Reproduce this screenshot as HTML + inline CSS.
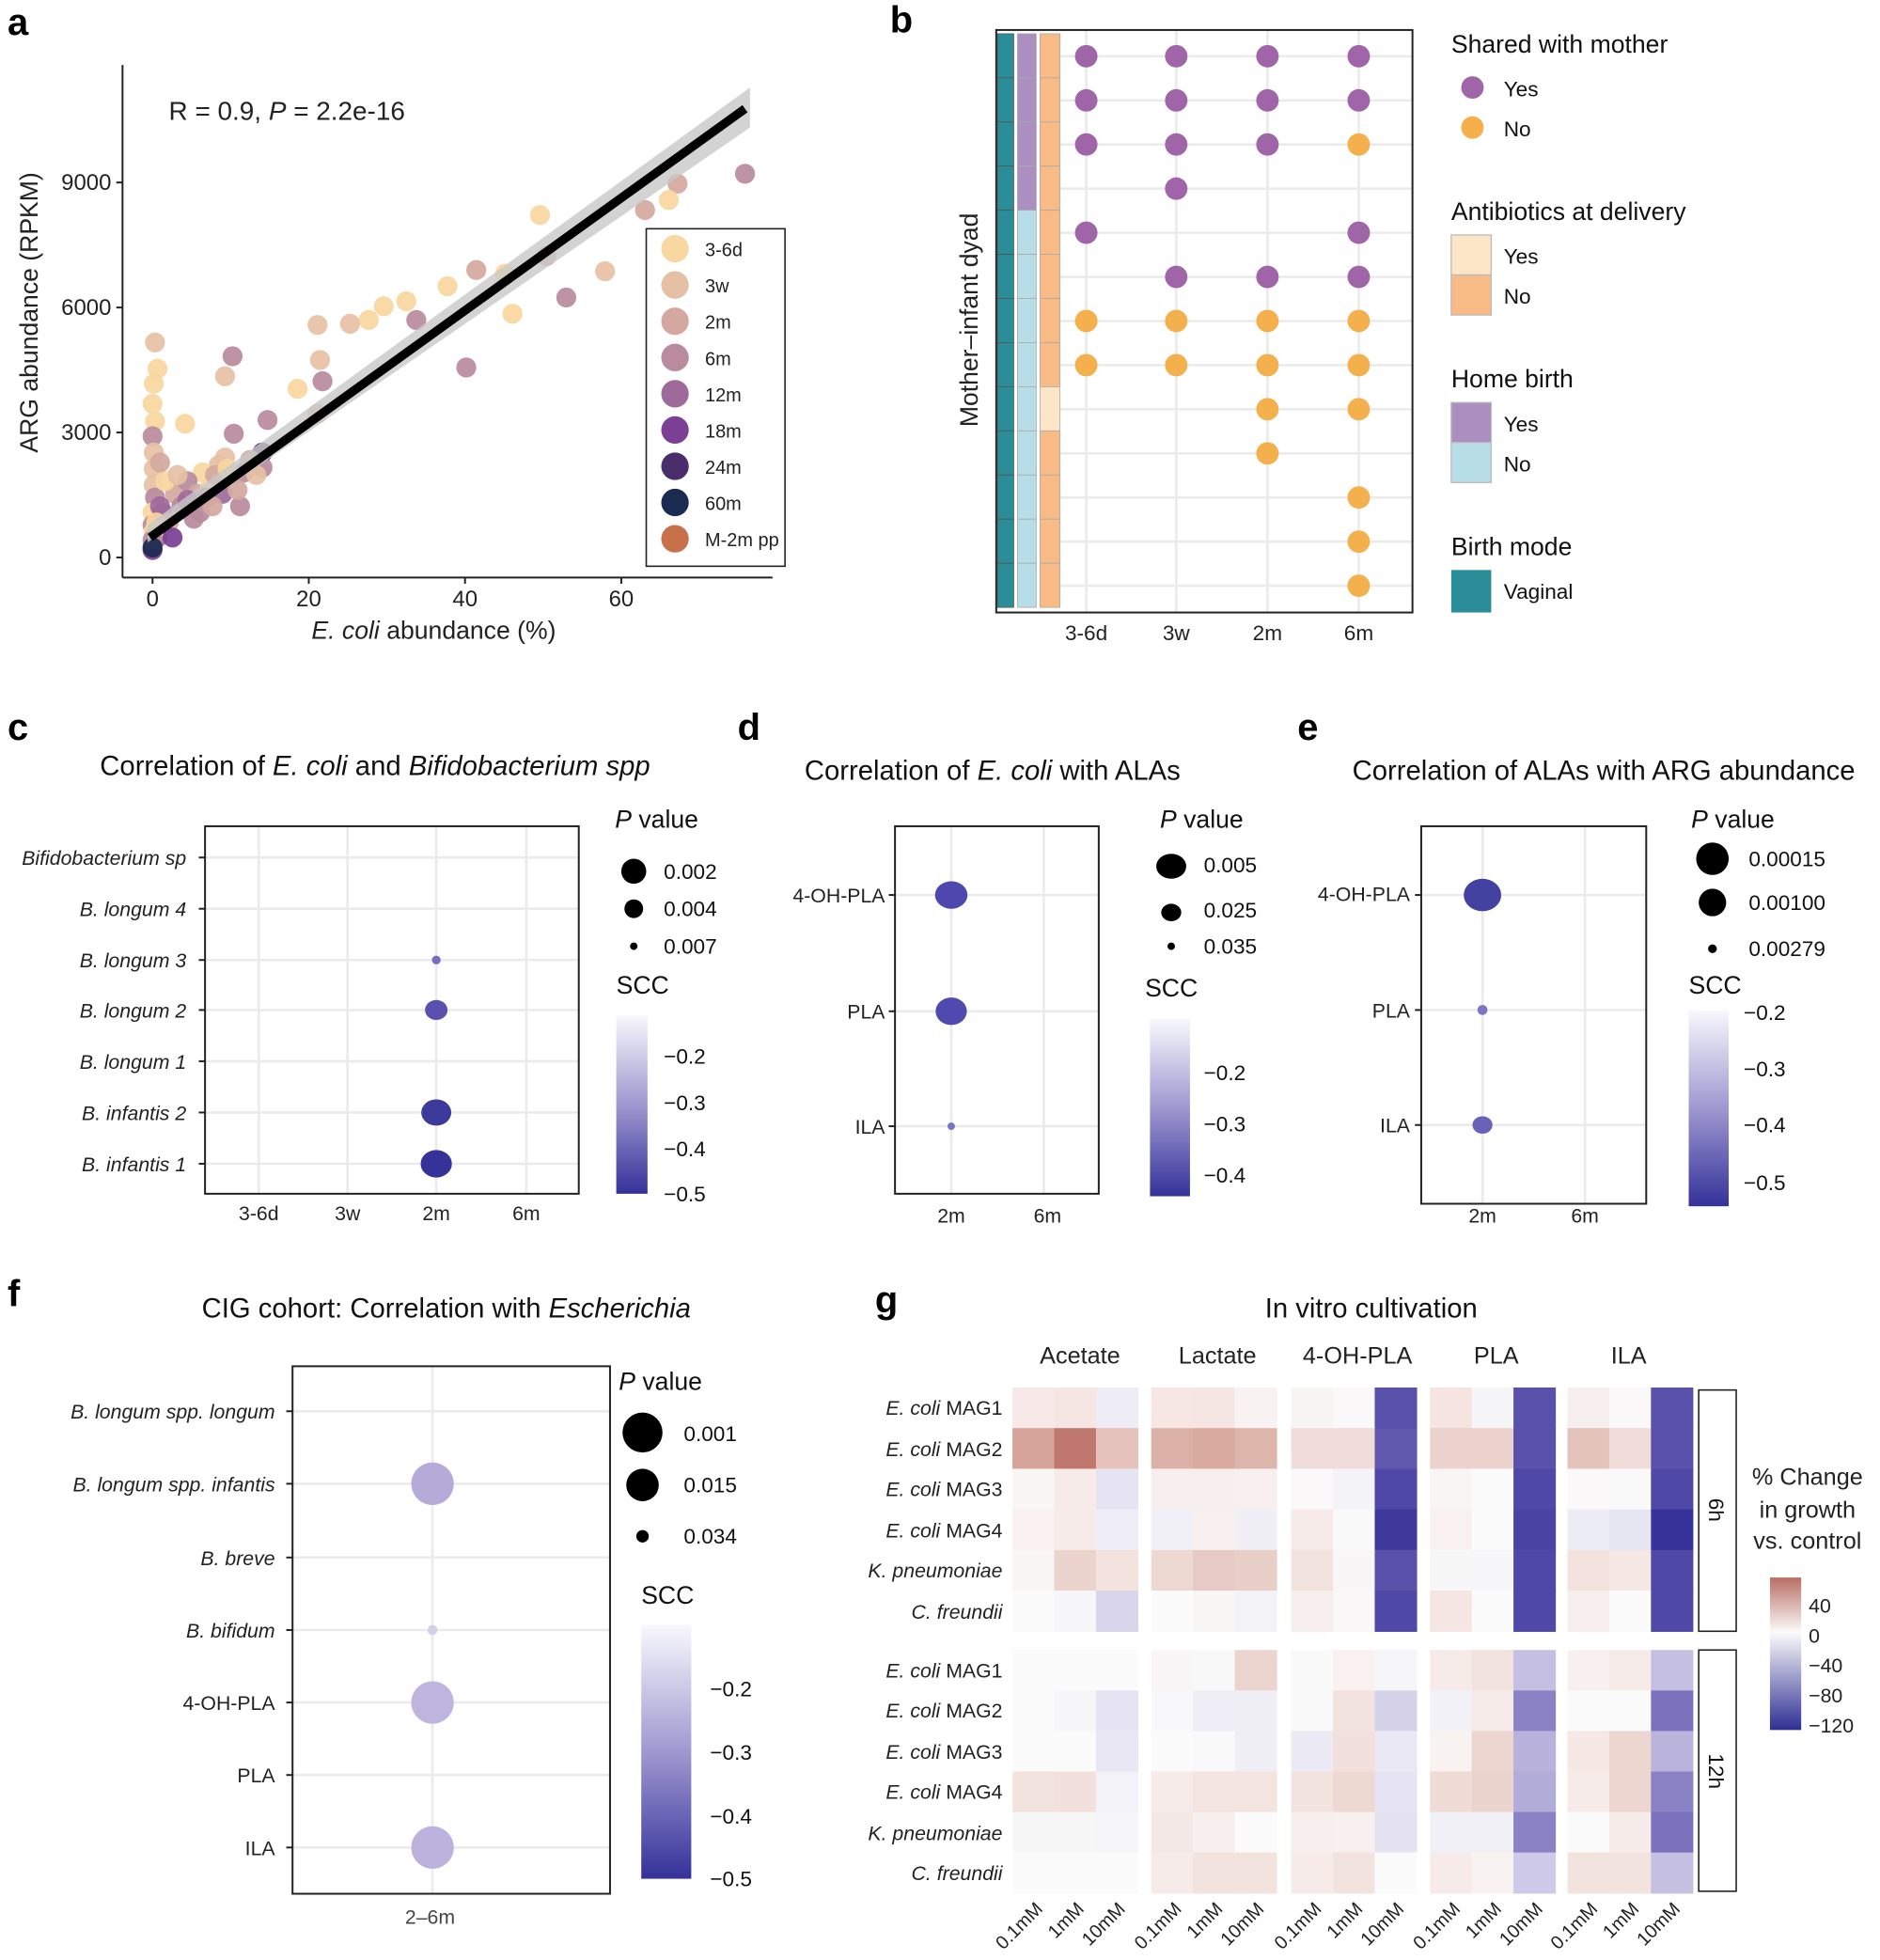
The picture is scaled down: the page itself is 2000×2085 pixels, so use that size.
<!DOCTYPE html>
<html><head><meta charset="utf-8"><style>
html,body{margin:0;padding:0;background:#fff}
svg{display:block}
text{font-family:"Liberation Sans",Arial,sans-serif;fill:#222}
.t{font-size:16px;fill:#444}
.lg{font-size:17px;fill:#111}
.pl{font-size:30px;font-weight:bold;fill:#000}
.ti{font-size:22px;fill:#111}
.gr{stroke:#ebebeb;stroke-width:2}
</style></head><body>
<svg id="s" width="2000" height="2085" viewBox="0 0 1504 1568" xmlns="http://www.w3.org/2000/svg">
<defs>
<linearGradient id="scc" x1="0" y1="0" x2="0" y2="1"><stop offset="0" stop-color="#f8f8fc"/><stop offset="0.5" stop-color="#9f98d0"/><stop offset="1" stop-color="#34329a"/></linearGradient>
<linearGradient id="pc" x1="0" y1="0" x2="0" y2="1"><stop offset="0" stop-color="#b86e64"/><stop offset="0.36" stop-color="#fbfbfb"/><stop offset="1" stop-color="#2e2e94"/></linearGradient>
</defs>
<!-- panel labels -->
<text class="pl" x="6" y="28">a</text><text class="pl" x="712" y="26">b</text>
<text class="pl" x="6" y="592">c</text><text class="pl" x="590" y="592">d</text><text class="pl" x="1038" y="592">e</text>
<text class="pl" x="6" y="1045">f</text><text class="pl" x="700" y="1050">g</text>

<!-- PANEL A -->
<g id="pa">
<line x1="98" y1="52" x2="98" y2="462" stroke="#222" stroke-width="1.5"/>
<line x1="98" y1="462" x2="618" y2="462" stroke="#222" stroke-width="1.5"/>
<g stroke="#222" stroke-width="1.5"><line x1="93" y1="446" x2="98" y2="446"/><line x1="93" y1="346" x2="98" y2="346"/><line x1="93" y1="246" x2="98" y2="246"/><line x1="93" y1="146" x2="98" y2="146"/>
<line x1="122" y1="462" x2="122" y2="467"/><line x1="247" y1="462" x2="247" y2="467"/><line x1="372" y1="462" x2="372" y2="467"/><line x1="497" y1="462" x2="497" y2="467"/></g>
<g class="t" style="font-size:18px" text-anchor="end"><text x="89" y="452">0</text><text x="89" y="352">3000</text><text x="89" y="252">6000</text><text x="89" y="152">9000</text></g>
<g class="t" style="font-size:18px" text-anchor="middle"><text x="122" y="485">0</text><text x="247" y="485">20</text><text x="372" y="485">40</text><text x="497" y="485">60</text></g>
<text x="30" y="250" transform="rotate(-90 30 250)" text-anchor="middle" style="font-size:20px">ARG abundance (RPKM)</text>
<text x="347" y="511" text-anchor="middle" style="font-size:20px"><tspan font-style="italic">E. coli</tspan> abundance (%)</text>
<text x="135" y="96" style="font-size:21px">R = 0.9,  <tspan font-style="italic">P</tspan> = 2.2e-16</text>
<g id="pts"></g>
<polygon points="118,420 600,70 600,102 118,434" fill="#c8c8c8" opacity="0.8"/>
<line x1="120" y1="430" x2="596" y2="87" stroke="#000" stroke-width="7"/>
<rect x="517" y="183" width="111" height="270" fill="#fff" stroke="#222" stroke-width="1.2"/>
<g id="alg"></g>
<g class="t" style="font-size:15px;fill:#111"><text x="564" y="205">3-6d</text><text x="564" y="234">3w</text><text x="564" y="263">2m</text><text x="564" y="292">6m</text><text x="564" y="321">12m</text><text x="564" y="350">18m</text><text x="564" y="379">24m</text><text x="564" y="408">60m</text><text x="564" y="437">M-2m pp</text></g>
</g>

<!-- PANEL B -->
<g id="pb">
<g id="bgrid"></g>
<rect x="797" y="24" width="333" height="466" fill="none" stroke="#222" stroke-width="1.5"/>
<g id="btiles"></g>
<g id="bdots"></g>
<g class="t" text-anchor="middle" style="font-size:17px"><text x="869" y="512">3-6d</text><text x="941" y="512">3w</text><text x="1014" y="512">2m</text><text x="1087" y="512">6m</text></g>
<text x="782" y="256" transform="rotate(-90 782 256)" text-anchor="middle" style="font-size:20px">Mother–infant dyad</text>
<text x="1161" y="42" class="ti" style="font-size:20px">Shared with mother</text>
<circle cx="1178" cy="70" r="9" fill="#a064a8"/><circle cx="1178" cy="102" r="9" fill="#f5b04e"/>
<text x="1203" y="77" class="lg">Yes</text><text x="1203" y="109" class="lg">No</text>
<text x="1161" y="176" class="ti" style="font-size:20px">Antibiotics at delivery</text>
<rect x="1161" y="188" width="32" height="32" fill="#fde5c8" stroke="#bbb"/><rect x="1161" y="220" width="32" height="32" fill="#f8bb86" stroke="#bbb"/>
<text x="1203" y="211" class="lg">Yes</text><text x="1203" y="243" class="lg">No</text>
<text x="1161" y="310" class="ti" style="font-size:20px">Home birth</text>
<rect x="1161" y="322" width="32" height="32" fill="#ab8fc0" stroke="#bbb"/><rect x="1161" y="354" width="32" height="32" fill="#b7dde6" stroke="#bbb"/>
<text x="1203" y="345" class="lg">Yes</text><text x="1203" y="377" class="lg">No</text>
<text x="1161" y="444" class="ti" style="font-size:20px">Birth mode</text>
<rect x="1161" y="456" width="32" height="34" fill="#2a8d98"/>
<text x="1203" y="479" class="lg">Vaginal</text>
</g>

<!-- PANEL C -->
<g>
<text x="300" y="620" text-anchor="middle" class="ti">Correlation of <tspan font-style="italic">E. coli</tspan> and <tspan font-style="italic">Bifidobacterium spp</tspan></text>
<g class="gr"><line x1="164" y1="686" x2="463" y2="686"/><line x1="164" y1="727" x2="463" y2="727"/><line x1="164" y1="768" x2="463" y2="768"/><line x1="164" y1="808" x2="463" y2="808"/><line x1="164" y1="849" x2="463" y2="849"/><line x1="164" y1="890" x2="463" y2="890"/><line x1="164" y1="931" x2="463" y2="931"/>
<line x1="207" y1="661" x2="207" y2="955"/><line x1="278" y1="661" x2="278" y2="955"/><line x1="349" y1="661" x2="349" y2="955"/><line x1="421" y1="661" x2="421" y2="955"/></g>
<rect x="164" y="661" width="299" height="294" fill="none" stroke="#222" stroke-width="1.5"/>
<g stroke="#222" stroke-width="1.5"><line x1="159" y1="686" x2="164" y2="686"/><line x1="159" y1="727" x2="164" y2="727"/><line x1="159" y1="768" x2="164" y2="768"/><line x1="159" y1="808" x2="164" y2="808"/><line x1="159" y1="849" x2="164" y2="849"/><line x1="159" y1="890" x2="164" y2="890"/><line x1="159" y1="931" x2="164" y2="931"/></g>
<g class="t" text-anchor="end" font-style="italic" style="font-size:16px"><text x="149" y="692">Bifidobacterium sp</text><text x="149" y="733">B. longum 4</text><text x="149" y="774">B. longum 3</text><text x="149" y="814">B. longum 2</text><text x="149" y="855">B. longum 1</text><text x="149" y="896">B. infantis 2</text><text x="149" y="937">B. infantis 1</text></g>
<g class="t" text-anchor="middle"><text x="207" y="976">3-6d</text><text x="278" y="976">3w</text><text x="349" y="976">2m</text><text x="421" y="976">6m</text></g>
<circle cx="349" cy="768" r="3.5" fill="#7a6cc0"/><ellipse cx="349" cy="808" rx="9" ry="8" fill="#5b50b0"/><ellipse cx="349" cy="890" rx="12" ry="10.5" fill="#3d3a9c"/><ellipse cx="349" cy="931" rx="12.5" ry="11" fill="#35339a"/>
<text x="492" y="662" class="ti" style="font-size:20px"><tspan font-style="italic">P</tspan> value</text>
<circle cx="507" cy="697" r="10" fill="#000"/><circle cx="507" cy="727" r="7.5" fill="#000"/><circle cx="507" cy="757" r="3" fill="#000"/>
<text x="531" y="703" class="lg">0.002</text><text x="531" y="733" class="lg">0.004</text><text x="531" y="763" class="lg">0.007</text>
<text x="493" y="795" class="ti" style="font-size:20px">SCC</text>
<rect x="493" y="812" width="25" height="143" fill="url(#scc)"/>
<text x="531" y="851" class="lg">−0.2</text><text x="531" y="888" class="lg">−0.3</text><text x="531" y="925" class="lg">−0.4</text><text x="531" y="961" class="lg">−0.5</text>
</g>

<!-- PANEL D -->
<g>
<text x="794" y="624" text-anchor="middle" class="ti">Correlation of <tspan font-style="italic">E. coli</tspan> with ALAs</text>
<g class="gr"><line x1="716" y1="716" x2="879" y2="716"/><line x1="716" y1="809" x2="879" y2="809"/><line x1="716" y1="901" x2="879" y2="901"/><line x1="761" y1="661" x2="761" y2="955"/><line x1="835" y1="661" x2="835" y2="955"/></g>
<rect x="716" y="661" width="163" height="294" fill="none" stroke="#222" stroke-width="1.5"/>
<g stroke="#222" stroke-width="1.5"><line x1="711" y1="716" x2="716" y2="716"/><line x1="711" y1="809" x2="716" y2="809"/><line x1="711" y1="901" x2="716" y2="901"/></g>
<g class="t" text-anchor="end"><text x="708" y="722">4-OH-PLA</text><text x="708" y="815">PLA</text><text x="708" y="907">ILA</text></g>
<g class="t" text-anchor="middle"><text x="761" y="978">2m</text><text x="838" y="978">6m</text></g>
<ellipse cx="761" cy="716" rx="13" ry="11" fill="#4e47ad"/><ellipse cx="761" cy="809" rx="12.5" ry="11" fill="#5049ae"/><circle cx="761" cy="901" r="3" fill="#7b73c4"/>
<text x="928" y="662" class="ti" style="font-size:20px"><tspan font-style="italic">P</tspan> value</text>
<ellipse cx="937" cy="693" rx="12" ry="10" fill="#000"/><ellipse cx="937" cy="730" rx="8" ry="7" fill="#000"/><circle cx="937" cy="757" r="3" fill="#000"/>
<text x="963" y="698" class="lg">0.005</text><text x="963" y="734" class="lg">0.025</text><text x="963" y="763" class="lg">0.035</text>
<text x="916" y="797" class="ti" style="font-size:20px">SCC</text>
<rect x="920" y="815" width="32" height="142" fill="url(#scc)"/>
<text x="963" y="864" class="lg">−0.2</text><text x="963" y="905" class="lg">−0.3</text><text x="963" y="946" class="lg">−0.4</text>
</g>

<!-- PANEL E -->
<g>
<text x="1283" y="624" text-anchor="middle" class="ti">Correlation of ALAs with ARG abundance</text>
<g class="gr"><line x1="1137" y1="716" x2="1317" y2="716"/><line x1="1137" y1="808" x2="1317" y2="808"/><line x1="1137" y1="900" x2="1317" y2="900"/><line x1="1186" y1="661" x2="1186" y2="963"/><line x1="1268" y1="661" x2="1268" y2="963"/></g>
<rect x="1137" y="661" width="180" height="302" fill="none" stroke="#222" stroke-width="1.5"/>
<g stroke="#222" stroke-width="1.5"><line x1="1132" y1="716" x2="1137" y2="716"/><line x1="1132" y1="808" x2="1137" y2="808"/><line x1="1132" y1="900" x2="1137" y2="900"/></g>
<g class="t" text-anchor="end"><text x="1128" y="721">4-OH-PLA</text><text x="1128" y="814">PLA</text><text x="1128" y="906">ILA</text></g>
<g class="t" text-anchor="middle"><text x="1186" y="978">2m</text><text x="1268" y="978">6m</text></g>
<ellipse cx="1186" cy="716" rx="15" ry="13" fill="#4342a0"/><circle cx="1186" cy="808" r="4" fill="#7c74c6"/><ellipse cx="1186" cy="900" rx="8" ry="7" fill="#6a61b8"/>
<text x="1353" y="662" class="ti" style="font-size:20px"><tspan font-style="italic">P</tspan> value</text>
<circle cx="1370" cy="687" r="13" fill="#000"/><circle cx="1370" cy="722" r="11" fill="#000"/><circle cx="1370" cy="759" r="3.5" fill="#000"/>
<text x="1399" y="693" class="lg">0.00015</text><text x="1399" y="728" class="lg">0.00100</text><text x="1399" y="765" class="lg">0.00279</text>
<text x="1351" y="795" class="ti" style="font-size:20px">SCC</text>
<rect x="1351" y="808" width="32" height="157" fill="url(#scc)"/>
<text x="1395" y="816" class="lg">−0.2</text><text x="1395" y="861" class="lg">−0.3</text><text x="1395" y="906" class="lg">−0.4</text><text x="1395" y="952" class="lg">−0.5</text>
</g>

<!-- PANEL F -->
<g>
<text x="357" y="1054" text-anchor="middle" class="ti">CIG cohort: Correlation with <tspan font-style="italic">Escherichia</tspan></text>
<g class="gr"><line x1="234" y1="1129" x2="488" y2="1129"/><line x1="234" y1="1187" x2="488" y2="1187"/><line x1="234" y1="1246" x2="488" y2="1246"/><line x1="234" y1="1304" x2="488" y2="1304"/><line x1="234" y1="1362" x2="488" y2="1362"/><line x1="234" y1="1420" x2="488" y2="1420"/><line x1="234" y1="1478" x2="488" y2="1478"/><line x1="346" y1="1093" x2="346" y2="1515"/></g>
<rect x="234" y="1093" width="254" height="422" fill="none" stroke="#222" stroke-width="1.5"/>
<g stroke="#222" stroke-width="1.5"><line x1="229" y1="1129" x2="234" y2="1129"/><line x1="229" y1="1187" x2="234" y2="1187"/><line x1="229" y1="1246" x2="234" y2="1246"/><line x1="229" y1="1304" x2="234" y2="1304"/><line x1="229" y1="1362" x2="234" y2="1362"/><line x1="229" y1="1420" x2="234" y2="1420"/><line x1="229" y1="1478" x2="234" y2="1478"/></g>
<g class="t" text-anchor="end"><text x="220" y="1135" font-style="italic">B. longum spp. longum</text><text x="220" y="1193" font-style="italic">B. longum spp. infantis</text><text x="220" y="1252" font-style="italic">B. breve</text><text x="220" y="1310" font-style="italic">B. bifidum</text><text x="220" y="1368">4-OH-PLA</text><text x="220" y="1426">PLA</text><text x="220" y="1484">ILA</text></g>
<text x="344" y="1539" class="t" text-anchor="middle">2–6m</text>
<circle cx="346" cy="1187" r="17" fill="#b4abd9"/><circle cx="346" cy="1304" r="4" fill="#d5d0ea"/><circle cx="346" cy="1362" r="17" fill="#bdb5de"/><circle cx="346" cy="1478" r="17" fill="#bbb3dd"/>
<text x="495" y="1112" class="ti" style="font-size:20px"><tspan font-style="italic">P</tspan> value</text>
<circle cx="514" cy="1146" r="16" fill="#000"/><circle cx="514" cy="1188" r="13" fill="#000"/><circle cx="514" cy="1229" r="5" fill="#000"/>
<text x="547" y="1153" class="lg">0.001</text><text x="547" y="1194" class="lg">0.015</text><text x="547" y="1235" class="lg">0.034</text>
<text x="513" y="1283" class="ti" style="font-size:20px">SCC</text>
<rect x="513" y="1300" width="40" height="203" fill="url(#scc)"/>
<text x="568" y="1357" class="lg">−0.2</text><text x="568" y="1408" class="lg">−0.3</text><text x="568" y="1459" class="lg">−0.4</text><text x="568" y="1509" class="lg">−0.5</text>
</g>

<!-- PANEL G -->
<g>
<text x="1097" y="1054" text-anchor="middle" class="ti">In vitro cultivation</text>
<g class="ti" style="font-size:19px" text-anchor="middle"><text x="864" y="1091">Acetate</text><text x="974" y="1091">Lactate</text><text x="1086" y="1091">4-OH-PLA</text><text x="1197" y="1091">PLA</text><text x="1303" y="1091">ILA</text></g>
<g id="heat"></g>
<g class="t" text-anchor="end"><text x="802" y="1132"><tspan font-style="italic">E. coli</tspan> MAG1</text><text x="802" y="1165"><tspan font-style="italic">E. coli</tspan> MAG2</text><text x="802" y="1197"><tspan font-style="italic">E. coli</tspan> MAG3</text><text x="802" y="1230"><tspan font-style="italic">E. coli</tspan> MAG4</text><text x="802" y="1262" font-style="italic">K. pneumoniae</text><text x="802" y="1295" font-style="italic">C. freundii</text>
<text x="802" y="1342"><tspan font-style="italic">E. coli</tspan> MAG1</text><text x="802" y="1374"><tspan font-style="italic">E. coli</tspan> MAG2</text><text x="802" y="1407"><tspan font-style="italic">E. coli</tspan> MAG3</text><text x="802" y="1439"><tspan font-style="italic">E. coli</tspan> MAG4</text><text x="802" y="1472" font-style="italic">K. pneumoniae</text><text x="802" y="1504" font-style="italic">C. freundii</text></g>
<rect x="1359" y="1112" width="30" height="193" fill="#fff" stroke="#222" stroke-width="1.2"/>
<rect x="1359" y="1320" width="30" height="193" fill="#fff" stroke="#222" stroke-width="1.2"/>
<text x="1367" y="1208" transform="rotate(90 1367 1208)" text-anchor="middle" class="lg">6h</text>
<text x="1367" y="1417" transform="rotate(90 1367 1417)" text-anchor="middle" class="lg">12h</text>
<g class="ti" style="font-size:19px" text-anchor="middle"><text x="1446" y="1188">% Change</text><text x="1446" y="1214">in growth</text><text x="1446" y="1239">vs. control</text></g>
<rect x="1416" y="1262" width="25" height="122" fill="url(#pc)"/>
<g class="lg" style="font-size:16px"><text x="1447" y="1290">40</text><text x="1447" y="1314">0</text><text x="1447" y="1338">−40</text><text x="1447" y="1362">−80</text><text x="1447" y="1386">−120</text></g>
<g class="t" text-anchor="end" style="font-size:15px">
<text transform="translate(835 1528) rotate(-45)">0.1mM</text><text transform="translate(868 1528) rotate(-45)">1mM</text><text transform="translate(901 1528) rotate(-45)">10mM</text>
<text transform="translate(946 1528) rotate(-45)">0.1mM</text><text transform="translate(979 1528) rotate(-45)">1mM</text><text transform="translate(1012 1528) rotate(-45)">10mM</text>
<text transform="translate(1058 1528) rotate(-45)">0.1mM</text><text transform="translate(1091 1528) rotate(-45)">1mM</text><text transform="translate(1124 1528) rotate(-45)">10mM</text>
<text transform="translate(1169 1528) rotate(-45)">0.1mM</text><text transform="translate(1202 1528) rotate(-45)">1mM</text><text transform="translate(1235 1528) rotate(-45)">10mM</text>
<text transform="translate(1279 1528) rotate(-45)">0.1mM</text><text transform="translate(1312 1528) rotate(-45)">1mM</text><text transform="translate(1345 1528) rotate(-45)">10mM</text>
</g>
</g>
</svg>
<script>
var NS="http://www.w3.org/2000/svg";
function el(p,t,a){var e=document.createElementNS(NS,t);for(var k in a)e.setAttribute(k,a[k]);p.appendChild(e);return e;}
var C={d:"#f8d7a0",w:"#e6c0a4",m2:"#d4a8a0",m6:"#b98b9c",m12:"#9e6a9a",m18:"#7b3f93",m24:"#4a2d6b",m60:"#1a2a50",pp:"#c8704a"};
var alg=document.getElementById("alg");
["d","w","m2","m6","m12","m18","m24","m60","pp"].forEach(function(k,i){el(alg,"circle",{cx:540,cy:199+29*i,r:11,fill:C[k]});});
var P=[[432,172,"d"],[542,147,"m2"],[596,139,"m6"],[535,160,"d"],[516,168,"m2"],[437,205,"m2"],[381,216,"m2"],[404,219,"d"],[484,217,"w"],[453,238,"m6"],[410,251,"d"],[358,229,"d"],[325,241,"d"],[307,245,"d"],[333,256,"m6"],[295,256,"d"],[280,259,"w"],[256,288,"w"],[254,260,"w"],[373,294,"m6"],[238,311,"d"],[258,305,"m6"],[214,336,"m6"],[254,331,"w"],[186,285,"m6"],[180,301,"w"],[124,274,"w"],[126,295,"d"],[123,307,"d"],[122,323,"d"],[148,339,"d"],[124,337,"d"],[122,349,"m6"],[187,347,"m6"],[210,362,"m24"],[210,374,"m6"],[192,405,"m6"],[175,372,"w"],[180,366,"w"],[162,378,"d"],
[123,362,"w"],[123,375,"w"],[123,388,"w"],[124,398,"m6"],[122,410,"d"],[122,420,"m6"],[126,430,"m12"],[122,440,"m18"],[130,410,"m12"],[140,395,"m2"],[150,385,"m6"],[158,395,"m2"],[168,390,"d"],[172,380,"m2"],[185,380,"w"],[195,378,"m6"],[200,368,"m2"],[145,405,"m6"],[135,418,"m2"],[138,430,"m18"],[128,405,"m12"],[150,400,"m12"],[160,410,"m6"],[132,385,"d"],[128,370,"m2"],[165,398,"m6"],[178,395,"m12"],[155,415,"m6"],[142,380,"w"],[170,405,"m2"],[190,392,"m2"],[205,380,"w"],[182,375,"d"],[123,425,"d"],[122,432,"m6"],[125,418,"d"],[122,438,"m60"]];
var g=document.getElementById("pts");
P.forEach(function(p){el(g,"circle",{cx:p[0],cy:p[1],r:8,fill:C[p[2]],opacity:0.92});});
// panel b
var bg=document.getElementById("bgrid"),bt=document.getElementById("btiles"),bd=document.getElementById("bdots");
var cols=[869,941,1014,1087];
for(var i=0;i<13;i++){var y=45+i*35.3;el(bg,"line",{x1:848,y1:y,x2:1130,y2:y,stroke:"#ebebeb","stroke-width":2});}
cols.forEach(function(x){el(bg,"line",{x1:x,y1:24,x2:x,y2:490,stroke:"#ebebeb","stroke-width":2});});
for(var i=0;i<13;i++){var y=27+i*35.3;
el(bt,"rect",{x:798,y:y,width:13,height:35.3,fill:"#2a8d98",stroke:"#555","stroke-width":0.6});
el(bt,"rect",{x:814,y:y,width:15,height:35.3,fill:i<4?"#ab8fc0":"#b7dde6",stroke:"#aaa","stroke-width":0.6});
el(bt,"rect",{x:832,y:y,width:16,height:35.3,fill:i==8?"#fde5c8":"#f8bb86",stroke:"#aaa","stroke-width":0.6});}
var D=["pppp","pppp","pppo","-p--","p--p","-ppp","oooo","oooo","--oo","--o-","---o","---o","---o"];
D.forEach(function(r,i){for(var j=0;j<4;j++){var c=r[j];if(c=="-")continue;el(bd,"circle",{cx:cols[j],cy:45+i*35.3,r:9,fill:c=="p"?"#a064a8":"#f5b04e"});}});
// heatmap
var H6=[["#f6e9e7","#f5e6e3","#eeedf5","#f6e7e4","#f5e6e3","#f8f3f2","#f8f4f4","#faf8f8","#5a52aa","#f5e4e0","#f5f5f8","#5a52aa","#f7efee","#faf8f8","#5a52aa"],
["#d6a49a","#c0776d","#e5c3bc","#dcb1a8","#d8aaa0","#deb5ab","#f0dcd8","#f0dcd8","#5f58ad","#ecd2cc","#ecd2cc","#5a52aa","#e4c3bb","#f0ddd9","#5a52aa"],
["#f9f6f6","#f6ebe8","#e6e4f2","#f7efed","#f7efed","#f7f0ee","#faf8f8","#f4f3f8","#5048a6","#f8f5f5","#fbfbfb","#5048a6","#faf8f8","#faf9f9","#5048a6"],
["#f8f1f0","#f6ebe8","#efeef6","#f1f0f6","#f7f0ee","#f0eff6","#f6ebe8","#faf9f9","#40399c","#f8f1f0","#fbfbfb","#4a43a2","#ececf5","#e6e5f2","#37339a"],
["#f8f5f5","#ecd4ce","#f3e2de","#edd8d2","#e6cac3","#e8cfc8","#f3e3df","#f8f6f6","#5a52aa","#f8f7f8","#f7f6f8","#5048a6","#f3e2de","#f5e8e5","#5048a6"],
["#fbfbfb","#f7f6f9","#d9d6ec","#fbfbfb","#f9f6f6","#f3f2f7","#f7efed","#f9f7f7","#5048a6","#f5e6e3","#fbfbfb","#5048a6","#f7efed","#fbfbfb","#5048a6"]];
var H12=[["#fbfbfb","#fbfbfb","#fbfbfb","#f8f6f6","#f8f8f8","#edd5cf","#faf9f9","#f8f1ef","#f6f6f9","#f6ebe8","#f3e3df","#c5c0e2","#f8f0ee","#f6ebe8","#c5c0e2"],
["#fbfbfb","#f6f6f9","#e6e4f2","#f8f8fa","#efeef6","#f0eff6","#faf9f9","#f3e3df","#d6d2ea","#f2f1f8","#f6ebe8","#8a82c4","#fbfbfb","#fbfbfb","#7a72bd"],
["#fbfbfb","#fbfbfb","#e9e7f3","#fbfbfb","#faf9f9","#f0eff6","#ecebf5","#f2e0dc","#eae8f4","#f8f2f0","#eed6d0","#b8b2dc","#f5e8e5","#eed6d0","#bab4dc"],
["#f3e3df","#f2e0dc","#f3f2f8","#f6ebe8","#f3e4e0","#f3e4e0","#f3e3df","#eed8d2","#e6e4f2","#f0dcd6","#ecd4ce","#b2acd9","#f6ebe8","#eed6d0","#8a82c4"],
["#f8f7f8","#f8f7f8","#f6f6f9","#f3e8e6","#f6efee","#fbfbfb","#f6efee","#f7f0ee","#e5e3f1","#f1f0f6","#f1f0f6","#8a82c4","#fbfbfb","#f6ebe8","#7a72bd"],
["#fbfbfb","#fbfbfb","#fbfbfb","#f6ebe8","#f3e3df","#f3e3df","#f6ebe8","#f3e3df","#fbfbfb","#f6ebe8","#f8f2f0","#cfcaea","#f3e3df","#f3e3df","#c5c0e2"]];
var hg=document.getElementById("heat"),bx=[810,921,1033,1144,1254],cw=33.4;
function draw(H,y0,rh){H.forEach(function(r,i){r.forEach(function(c,j){var b=Math.floor(j/3),k=j%3;el(hg,"rect",{x:bx[b]+k*cw,y:y0+i*rh,width:cw+0.5,height:rh+0.5,fill:c});});});}
draw(H6,1110,32.5);draw(H12,1320,32.4);
</script>
</body></html>
